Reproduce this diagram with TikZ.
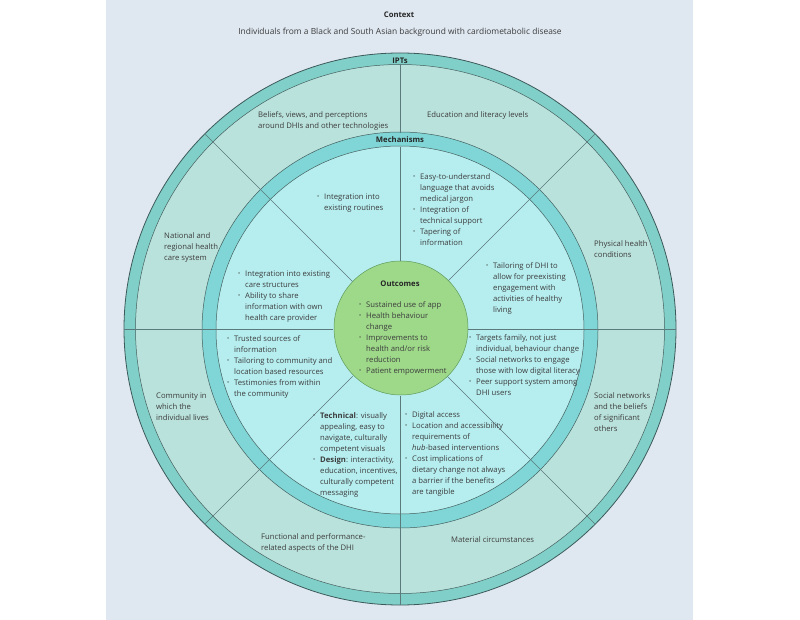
\documentclass[tikz,border=0pt]{standalone}
\usepackage{fontspec}
\setmainfont{Open Sans}
\usetikzlibrary{calc}
\definecolor{bgc}{HTML}{DFE8F1}
\definecolor{iptband}{HTML}{80CFC8}
\definecolor{iptfill}{HTML}{BAE2DC}
\definecolor{mechband}{HTML}{80D6D6}
\definecolor{mechfill}{HTML}{B6EEF0}
\definecolor{greenf}{HTML}{9ED98A}
\definecolor{greenl}{HTML}{5E9A5A}
\definecolor{outerl}{HTML}{3D5A5A}
\definecolor{innerl}{HTML}{44605F}
\definecolor{divc}{HTML}{5A7A7B}
\definecolor{txtc}{HTML}{3C3C3C}
\definecolor{ttlc}{HTML}{262626}
\newcommand\bu{\makebox[7pt][l]{\raisebox{0.7pt}{\fontsize{5.6}{6}\selectfont\textbullet}}}
\newcommand\lst[1]{\begin{tabular}[t]{@{}l@{}l@{}}#1\end{tabular}}
\newcommand\one[1]{\begin{tabular}[t]{@{}l@{}}#1\end{tabular}}
\begin{document}
\begin{tikzpicture}[x=1pt,y=1pt,
  txt/.style={inner sep=0pt, font=\fontsize{7.7}{11}\selectfont, text=txtc},
  ttl/.style={inner sep=0pt, font=\fontsize{7.7}{11}\selectfont\bfseries, text=ttlc},
  divl/.style={draw=divc, line width=0.55pt}]
\useasboundingbox (0,0) rectangle (800,-620);
\fill[white] (0,0) rectangle (800,-620);
\fill[bgc] (106,0) rectangle (693,-620);
\coordinate (c) at (400,-329);
\coordinate (cm) at (400,-330);
\coordinate (cg) at (401,-328);
\filldraw[fill=iptband, draw=outerl, line width=0.8pt] (c) circle[radius=276pt];
\filldraw[fill=iptfill, draw=innerl, line width=0.5pt] (c) circle[radius=264.5pt];
\filldraw[fill=mechband, draw=innerl, line width=0.5pt] (cm) circle[radius=198pt];
\filldraw[fill=mechfill, draw=innerl, line width=0.5pt] (cm) circle[radius=184pt];
\foreach \a in {0,45,135,180,225,270,315}
  \draw[divl] ($(c)+(\a:67pt)$) -- ($(c)+(\a:276pt)$);
\draw[divl] ($(c)+(90:67pt)$) -- ($(c)+(90:182pt)$);
\draw[divl] ($(c)+(90:196pt)$) -- ($(c)+(90:264pt)$);
\filldraw[fill=greenf, draw=greenl, line width=0.5pt] (cg) circle[radius=67pt];
% titles
\node[ttl, anchor=base] (context) at (399,-18) {Context};
\node[txt, anchor=base, font=\fontsize{8.4}{11}\selectfont] (sub) at (400,-35) {Individuals from a Black and South Asian background with cardiometabolic disease};
\node[ttl, anchor=base] (ipts) at (400,-64) {IPTs};
\node[ttl, anchor=base] (mech) at (400,-142.5) {Mechanisms};
\node[ttl, anchor=base] (outc) at (400,-287) {Outcomes};
% outcomes
\node[txt, anchor=base west] (olist) at (359,-307) {\lst{\bu & Sustained use of app\\ \bu & Health behaviour\\ & change\\ \bu & Improvements to\\ & health and/or risk\\ & reduction\\ \bu & Patient empowerment}};
% IPT labels
\node[txt, anchor=base west] (i1) at (258,-118) {\one{Beliefs, views, and perceptions\\around DHIs and other technologies}};
\node[txt, anchor=base west] (i2) at (427,-118) {\one{Education and literacy levels}};
\node[txt, anchor=base west] (i3) at (594,-246.5) {\one{Physical health\\conditions}};
\node[txt, anchor=base west] (i4) at (594,-398.5) {\one{Social networks\\and the beliefs\\of significant\\others}};
\node[txt, anchor=base west] (i5) at (451,-542.5) {\one{Material circumstances}};
\node[txt, anchor=base west] (i6) at (261,-539.5) {\one{Functional and performance-\\related aspects of the DHI}};
\node[txt, anchor=base west] (i7) at (156,-398.5) {\one{Community in\\which the\\individual lives}};
\node[txt, anchor=base west] (i8) at (164,-238.5) {\one{National and\\regional health\\care system}};
% mechanisms
\node[txt, anchor=base west] (m1) at (317,-199.5) {\lst{\bu & Integration into\\ & existing routines}};
\node[txt, anchor=base west] (m2) at (413,-179.5) {\lst{\bu & Easy-to-understand\\ & language that avoids\\ & medical jargon\\ \bu & Integration of\\ & technical support\\ \bu & Tapering of\\ & information}};
\node[txt, anchor=base west] (m3) at (486,-268.5) {\lst{\bu & Tailoring of DHI to\\ & allow for preexisting\\ & engagement with\\ & activities of healthy\\ & living}};
\node[txt, anchor=base west] (m4) at (469,-340.5) {\lst{\bu & Targets family, not just\\ & individual, behaviour change\\ \bu & Social networks to engage\\ & those with low digital literacy\\ \bu & Peer support system among\\ & DHI users}};
\node[txt, anchor=base west] (m5) at (405,-417.5) {\lst{\bu & Digital access\\ \bu & Location and accessibility\\ & requirements of\\ & \textit{hub}-based interventions\\ \bu & Cost implications of\\ & dietary change not always\\ & a barrier if the benefits\\ & are tangible}};
\node[txt, anchor=base west] (m6) at (313,-418.5) {\lst{\bu & \textbf{Technical}: visually\\ & appealing, easy to\\ & navigate, culturally\\ & competent visuals\\ \bu & \textbf{Design}: interactivity,\\ & education, incentives,\\ & culturally competent\\ & messaging}};
\node[txt, anchor=base west] (m7) at (227,-341.5) {\lst{\bu & Trusted sources of\\ & information\\ \bu & Tailoring to community and\\ & location based resources\\ \bu & Testimonies from within\\ & the community}};
\node[txt, anchor=base west] (m8) at (238,-276.5) {\lst{\bu & Integration into existing\\ & care structures\\ \bu & Ability to share\\ & information with own\\ & health care provider}};
\end{tikzpicture}
\end{document}
